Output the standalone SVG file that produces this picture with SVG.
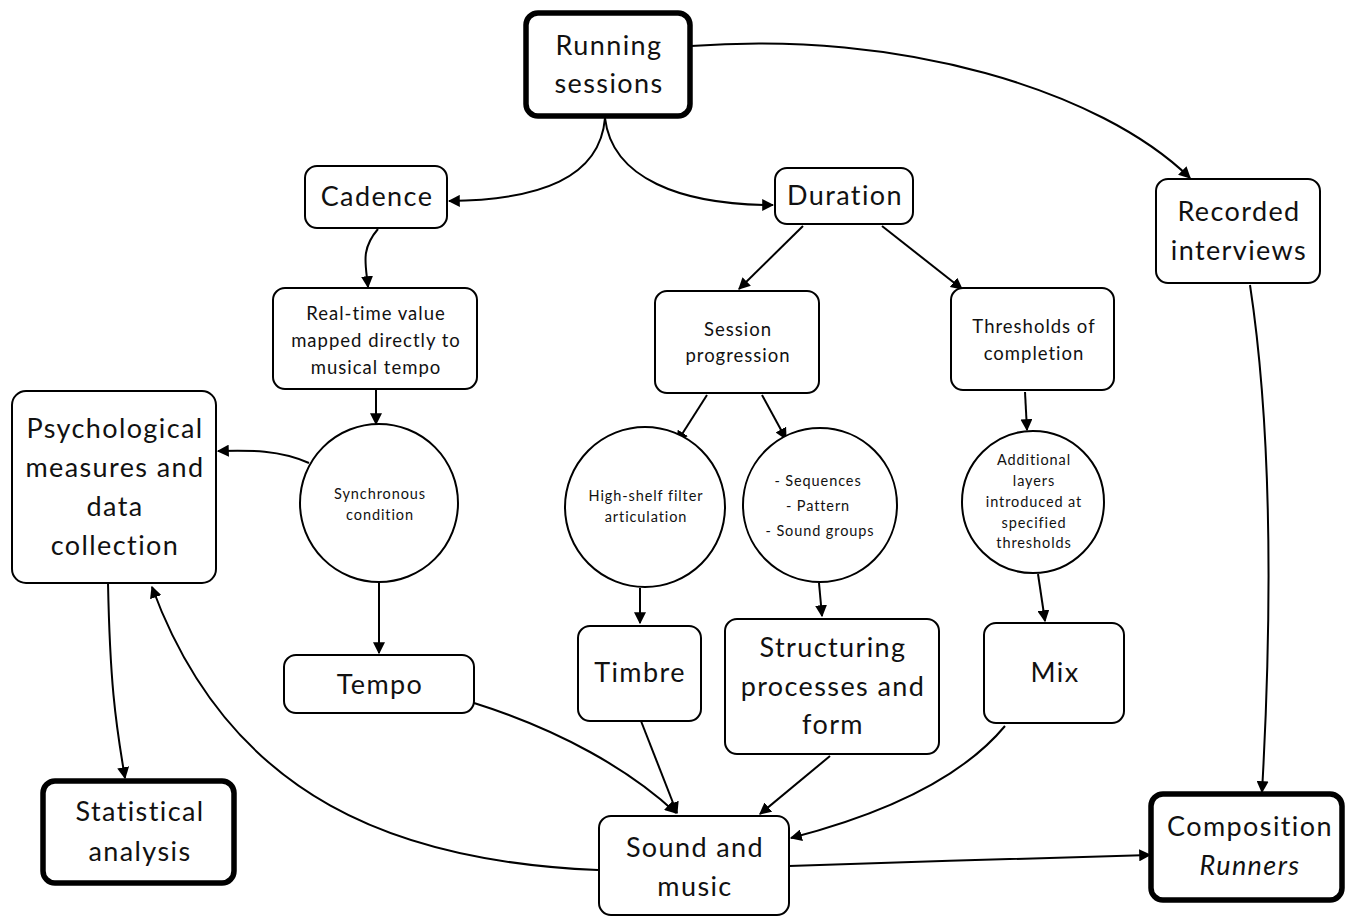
<svg xmlns="http://www.w3.org/2000/svg" width="1351" height="918" viewBox="0 0 1351 918">
<style>
.n{fill:#fff;stroke:#000;stroke-width:2}
.b{fill:#fff;stroke:#000;stroke-width:5.5}
text{font-family:Lato,"Noto Sans",sans-serif;fill:#111;text-anchor:middle}
.l{font-size:27px;letter-spacing:1.4px}
.m{font-size:18.5px;letter-spacing:1px}
.s{font-size:14.5px;letter-spacing:0.9px}
.c path{fill:none;stroke:#000;stroke-width:2;marker-end:url(#a)}
</style>
<defs>
<marker id="a" viewBox="0 0 10 10" refX="9" refY="5" markerWidth="6" markerHeight="6" orient="auto" markerUnits="strokeWidth"><path d="M0,0L10,5L0,10z" fill="#000"/></marker>
</defs>
<g class="c" id="connectors">
<path d="M605,118 C600,178 540,200 449,201"/>
<path d="M605,118 C612,178 680,205 773,205"/>
<path d="M691,46 C900,30 1100,90 1190,178"/>
<path d="M378,229 C360,250 366,265 368,287"/>
<path d="M376,389 L376,424"/>
<path d="M379,582 L379,653"/>
<path d="M309,463 C280,450 250,450 218,451"/>
<path d="M803,226 L739,289"/>
<path d="M882,226 L962,289"/>
<path d="M707,395 L677,442"/>
<path d="M762,395 L786,439"/>
<path d="M1025,392 L1027,430"/>
<path d="M640,588 L640,623"/>
<path d="M819,583 L822,616"/>
<path d="M1038,574 L1045,621"/>
<path d="M474,703 C560,730 630,770 676,813"/>
<path d="M641,721 L677,813"/>
<path d="M830,756 L760,814"/>
<path d="M1005,726 C960,780 880,815 791,838"/>
<path d="M598,870 C400,862 230,800 152,587"/>
<path d="M789,866 C900,862 1050,858 1150,855"/>
<path d="M1250,285 C1275,450 1270,650 1262,792"/>
<path d="M108,583 C110,680 115,720 125,778"/>
</g>
<g id="running"><rect class="b" x="526" y="13" width="164" height="103" rx="12"/><text class="l" x="609" y="55">Running</text><text class="l" x="609" y="93">sessions</text></g>
<g id="cadence"><rect class="n" x="305" y="166" width="142" height="62" rx="12"/><text class="l" x="377" y="206">Cadence</text></g>
<g id="duration"><rect class="n" x="775" y="168" width="138" height="56" rx="12"/><text class="l" x="845" y="205">Duration</text></g>
<g id="recorded"><rect class="n" x="1156" y="179" width="164" height="104" rx="12"/><text class="l" x="1239" y="221">Recorded</text><text class="l" x="1239" y="260">interviews</text></g>
<g id="realtime"><rect class="n" x="273" y="288" width="204" height="101" rx="12"/><text class="m" x="376" y="320">Real-time value</text><text class="m" x="376" y="347">mapped directly to</text><text class="m" x="376" y="374">musical tempo</text></g>
<g id="session"><rect class="n" x="655" y="291" width="164" height="102" rx="12"/><text class="m" x="738" y="336">Session</text><text class="m" x="738" y="362">progression</text></g>
<g id="thresholds"><rect class="n" x="951" y="288" width="163" height="102" rx="12"/><text class="m" x="1034" y="333">Thresholds of</text><text class="m" x="1034" y="360">completion</text></g>
<g id="psych"><rect class="n" x="12" y="391" width="204" height="192" rx="14"/><text class="l" x="115" y="438">Psychological</text><text class="l" x="115" y="477">measures and</text><text class="l" x="115" y="516">data</text><text class="l" x="115" y="555">collection</text></g>
<g id="sync"><circle class="n" cx="379" cy="503" r="79"/><text class="s" x="380" y="499">Synchronous</text><text class="s" x="380" y="520">condition</text></g>
<g id="highshelf"><circle class="n" cx="645" cy="507" r="80"/><text class="s" x="646" y="501">High-shelf filter</text><text class="s" x="646" y="522">articulation</text></g>
<g id="sequences"><circle class="n" cx="820" cy="505" r="77"/><text class="s" x="818" y="486">- Sequences</text><text class="s" x="818" y="511">- Pattern</text><text class="s" x="820" y="536">- Sound groups</text></g>
<g id="additional"><circle class="n" cx="1033" cy="502" r="71"/><text class="s" x="1034" y="465">Additional</text><text class="s" x="1034" y="486">layers</text><text class="s" x="1034" y="507">introduced at</text><text class="s" x="1034" y="528">specified</text><text class="s" x="1034" y="548">thresholds</text></g>
<g id="tempo"><rect class="n" x="284" y="655" width="190" height="58" rx="12"/><text class="l" x="380" y="694">Tempo</text></g>
<g id="timbre"><rect class="n" x="578" y="626" width="123" height="95" rx="12"/><text class="l" x="640" y="682">Timbre</text></g>
<g id="structuring"><rect class="n" x="725" y="619" width="214" height="135" rx="12"/><text class="l" x="833" y="657">Structuring</text><text class="l" x="833" y="696">processes and</text><text class="l" x="833" y="734">form</text></g>
<g id="mix"><rect class="n" x="984" y="623" width="140" height="100" rx="12"/><text class="l" x="1055" y="682">Mix</text></g>
<g id="statistical"><rect class="b" x="43" y="781" width="191" height="102" rx="12"/><text class="l" x="140" y="821">Statistical</text><text class="l" x="140" y="861">analysis</text></g>
<g id="sound"><rect class="n" x="599" y="816" width="190" height="99" rx="12"/><text class="l" x="695" y="857">Sound and</text><text class="l" x="695" y="896">music</text></g>
<g id="composition"><rect class="b" x="1151" y="794" width="191" height="106" rx="12"/><text class="l" x="1250" y="836">Composition</text><text class="l" x="1250" y="875" font-style="italic">Runners</text></g>
</svg>
